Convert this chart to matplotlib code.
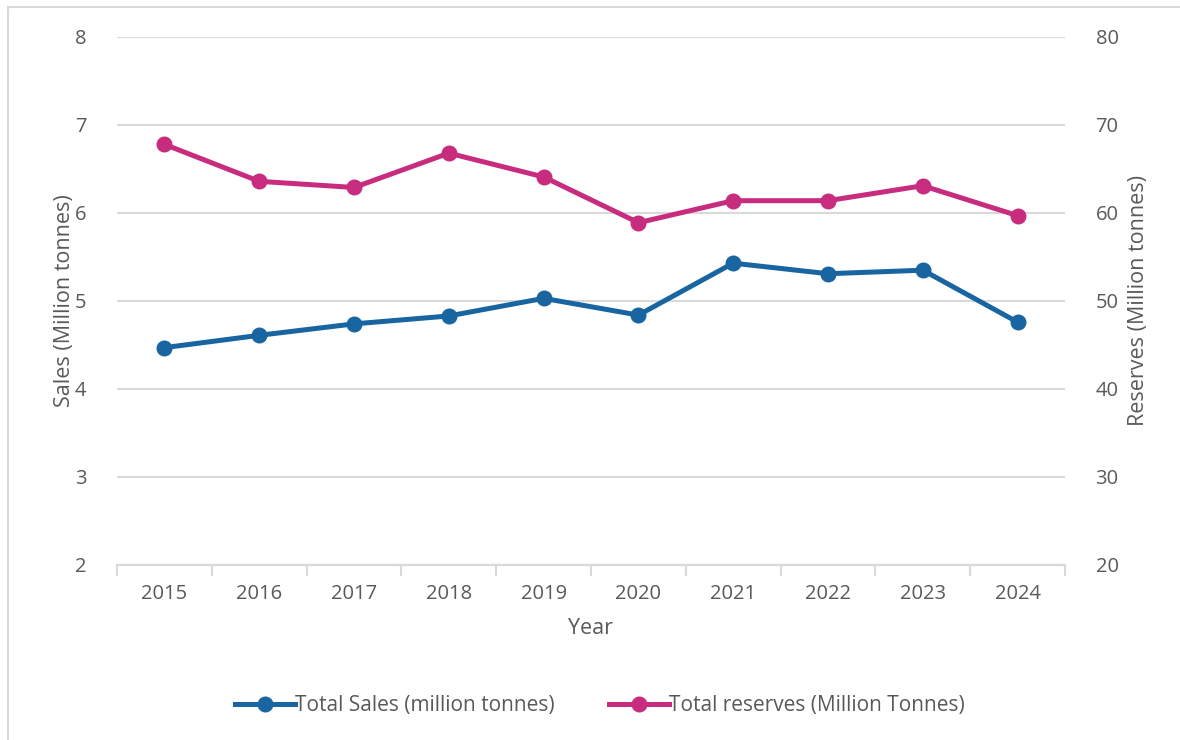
import matplotlib.pyplot as plt
from matplotlib.patches import Rectangle
from matplotlib.lines import Line2D

# =========================================================
# DATA
# =========================================================
YEARS = ["2015", "2016", "2017", "2018", "2019", "2020", "2021", "2022", "2023", "2024"]
SALES = [4.47, 4.61, 4.74, 4.83, 5.03, 4.84, 5.43, 5.31, 5.35, 4.76]
RESERVES = [67.8, 63.6, 62.9, 66.8, 64.1, 58.9, 61.4, 61.4, 63.1, 59.7]

SALES_LABEL = "Total Sales (million tonnes)"
RESERVES_LABEL = "Total reserves (Million Tonnes)"

BLUE = "#1865A1"
PINK = "#C72C7F"
TEXT = "#595959"
GRID = "#D9D9D9"

plt.rcParams["font.family"] = ["Open Sans", "DejaVu Sans"]
FS = 14.5


def main():
    fig = plt.figure(figsize=(11.8, 7.4), dpi=100)
    ax = fig.add_axes([117 / 1180, 1 - 565 / 740, (1065 - 117) / 1180, (565 - 37) / 740])
    ax2 = ax.twinx()

    # chart border (only left / top visible in the reference)
    fig.patches.append(Rectangle((8 / 1180, -0.05), 1.2, 1 - 7 / 740 + 0.05,
                                 transform=fig.transFigure, fill=False,
                                 edgecolor=GRID, linewidth=1.5))

    x = list(range(len(YEARS)))
    ax.plot(x, SALES, color=BLUE, lw=3.6, marker="o", ms=10.5, zorder=3)
    ax2.plot(x, RESERVES, color=PINK, lw=3.6, marker="o", ms=10.5, zorder=3)

    ax.set_xlim(-0.5, len(YEARS) - 0.5)
    ax.set_ylim(2, 8)
    ax2.set_ylim(20, 80)
    ax.set_yticks(range(2, 9))
    ax2.set_yticks(range(20, 81, 10))

    ax.set_xticks(x)
    ax.set_xticklabels(YEARS)
    ax.set_xticks([i - 0.5 for i in range(len(YEARS) + 1)], minor=True)
    ax.tick_params(axis="x", which="major", length=0, pad=14, labelsize=FS, labelcolor=TEXT)
    ax.tick_params(axis="x", which="minor", length=8, width=1.5, color=GRID)
    ax.tick_params(axis="y", length=0, pad=22, labelsize=FS, labelcolor=TEXT)
    ax2.tick_params(axis="y", length=0, pad=22, labelsize=FS, labelcolor=TEXT)

    ax.grid(axis="y", color=GRID, linewidth=1.5)
    ax.set_axisbelow(True)
    for a in (ax, ax2):
        for side in ("top", "left", "right"):
            a.spines[side].set_visible(False)
        a.spines["bottom"].set_color(GRID)
        a.spines["bottom"].set_linewidth(1.5)

    ax.set_xlabel("Year", fontsize=FS + 1, color=TEXT, labelpad=10)
    ax.set_ylabel("Sales (Million tonnes)", fontsize=FS + 1, color=TEXT, labelpad=0)
    ax2.set_ylabel("Reserves (Million tonnes)", fontsize=FS + 1, color=TEXT,
                   rotation=90, labelpad=7)

    handles = [
        Line2D([], [], color=BLUE, lw=3.6, marker="o", ms=10.5),
        Line2D([], [], color=PINK, lw=3.6, marker="o", ms=10.5),
    ]
    leg = fig.legend(handles, [SALES_LABEL, RESERVES_LABEL], loc="center",
                     bbox_to_anchor=(600 / 1180, 1 - 706 / 740), ncol=2, frameon=False,
                     fontsize=FS + 0.5, handlelength=2.9, handletextpad=0.0, columnspacing=2.6)
    for t in leg.get_texts():
        t.set_color(TEXT)

    fig.savefig("out.png", dpi=100)
    plt.close(fig)


if __name__ == "__main__":
    main()
